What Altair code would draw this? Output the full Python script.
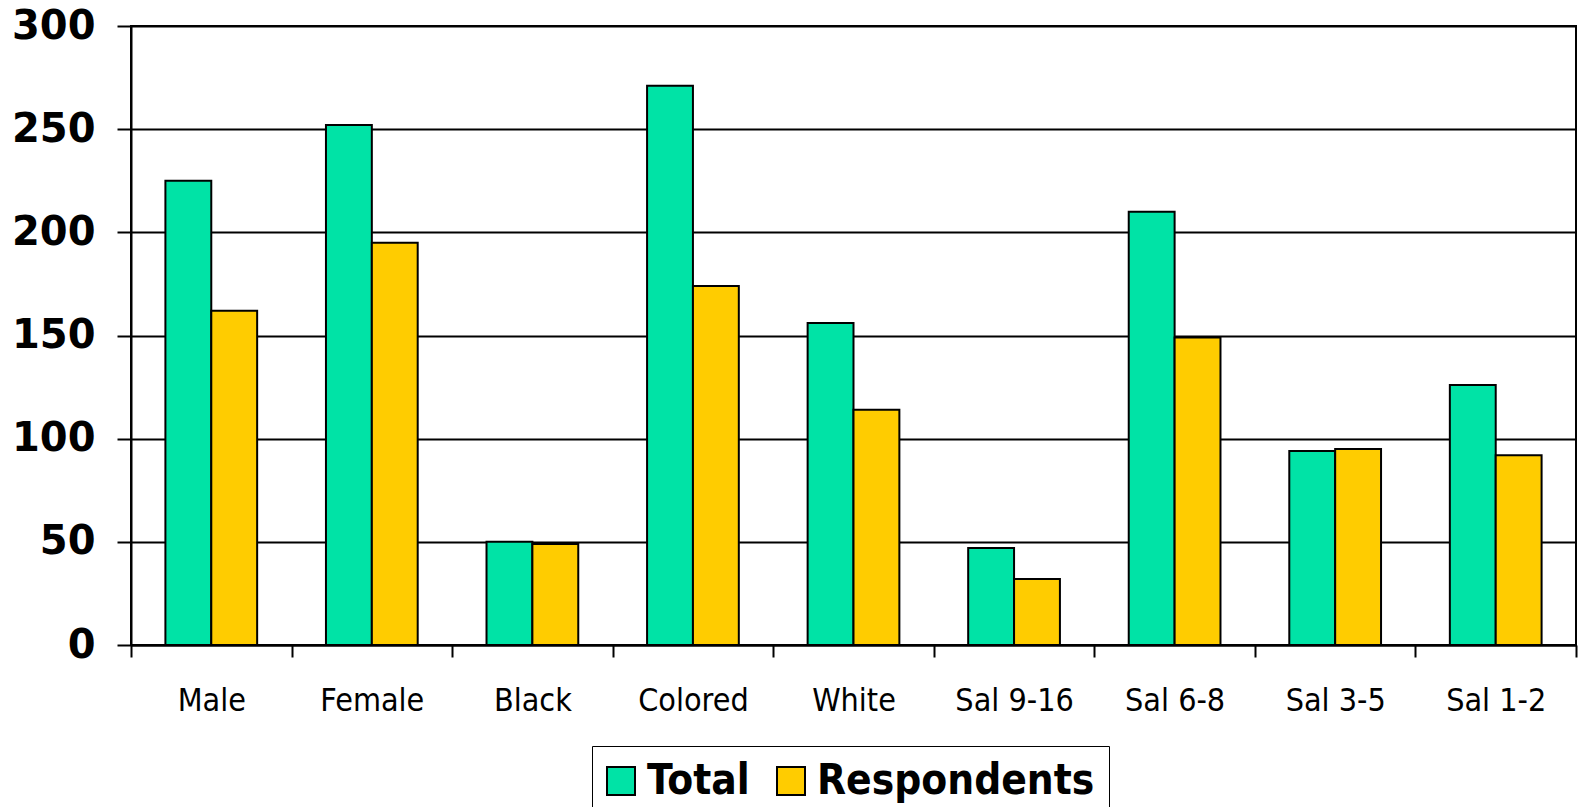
import altair as alt
import pandas as pd

# Survey population vs. respondents by group
categories = ["Male", "Female", "Black", "Colored", "White",
              "Sal 9-16", "Sal 6-8", "Sal 3-5", "Sal 1-2"]
total = [225, 252, 50, 271, 156, 47, 210, 94, 126]
respondents = [162, 195, 49, 174, 114, 32, 149, 95, 92]
series = ["Total", "Respondents"]
colors = ["#00E3A6", "#FFCC00"]
y_ticks = [0, 50, 100, 150, 200, 250, 300]

rows = []
for cat, t, r in zip(categories, total, respondents):
    rows.append({"category": cat, "series": "Total", "value": t})
    rows.append({"category": cat, "series": "Respondents", "value": r})
df = pd.DataFrame(rows)

FONT = "DejaVu Sans"
FONT_NARROW = "DejaVu Sans Condensed"

bars = alt.Chart(df).mark_bar(stroke="black", strokeWidth=2).encode(
    x=alt.X(
        "category:N",
        sort=categories,
        scale=alt.Scale(paddingInner=0, paddingOuter=0),
        axis=alt.Axis(
            title=None,
            labelAngle=0,
            labelFont=FONT_NARROW,
            labelFontSize=32,
            labelColor="black",
            labelPadding=28,
            tickBand="extent",
            tickSize=12,
            tickColor="black",
            tickWidth=2,
            domainColor="black",
            domainWidth=2,
            grid=False,
        ),
    ),
    # each pair of bars fills 4/7 of its category slot, centred
    xOffset=alt.XOffset(
        "series:N",
        sort=series,
        scale=alt.Scale(paddingInner=0, paddingOuter=0.75),
    ),
    y=alt.Y(
        "value:Q",
        scale=alt.Scale(domain=[0, 300], nice=False),
        axis=alt.Axis(
            title=None,
            values=y_ticks,
            labelFont=FONT,
            labelFontSize=40,
            labelFontWeight="bold",
            labelColor="black",
            labelPadding=22,
            tickSize=14,
            tickColor="black",
            tickWidth=2,
            domainColor="black",
            domainWidth=2,
            grid=True,
            gridColor="black",
            gridWidth=2,
            gridOpacity=1,
        ),
    ),
    color=alt.Color(
        "series:N",
        sort=series,
        scale=alt.Scale(domain=series, range=colors),
        legend=alt.Legend(
            title=None,
            orient="none",
            legendX=461,
            legendY=720,
            direction="horizontal",
            symbolType="square",
            symbolSize=784,
            symbolStrokeColor="black",
            symbolStrokeWidth=2,
            symbolOpacity=1,
            symbolOffset={"expr": "-6"},
            labelFont=FONT_NARROW,
            labelFontSize=42,
            labelFontWeight="bold",
            labelColor="black",
            labelOffset=5,
            columnPadding=23,
            padding=14,
            strokeColor="black",
            fillColor="white",
            labelLimit=400,
        ),
    ),
).properties(width=1445, height=619)

chart = bars.configure_view(stroke="black", strokeWidth=2).properties(
    autosize=alt.AutoSizeParams(type="none"),
    padding={"left": 131, "top": 26, "right": 5, "bottom": 162},
    background="white",
)

chart.save("out.html", embed_options={"renderer": "svg", "actions": False})
